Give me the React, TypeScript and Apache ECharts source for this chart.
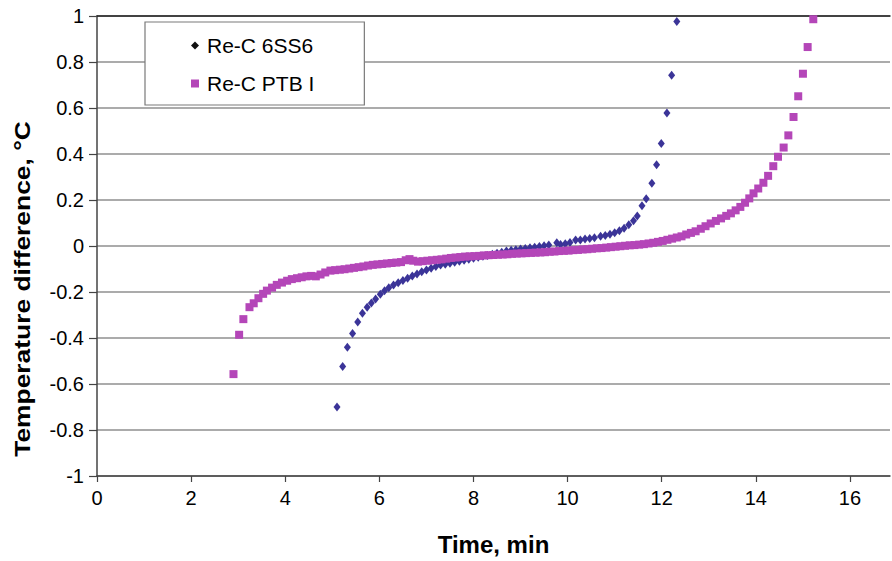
import React, { useEffect, useRef } from "react";
import * as echarts from "echarts";

const seriesNames = ["Re-C 6SS6", "Re-C PTB I"];

// Re-C 6SS6 (time, min / temperature difference, °C)
const sixSS6Time = [
  5.1, 5.22, 5.32, 5.43, 5.54, 5.64, 5.74, 5.83, 5.92, 6.02, 6.11, 6.2, 6.3, 6.4, 6.5, 6.6, 6.7, 6.8, 6.9,
  7.0, 7.1, 7.2, 7.3, 7.4, 7.5, 7.6, 7.7, 7.8, 7.9, 8.0, 8.1, 8.2, 8.3, 8.4, 8.5, 8.6, 8.7, 8.8, 8.9,
  9.0, 9.1, 9.2, 9.3, 9.4, 9.5, 9.6, 9.77, 9.85, 9.95, 10.05, 10.17, 10.27, 10.37, 10.47, 10.57, 10.7,
  10.8, 10.9, 11.0, 11.1, 11.2, 11.3, 11.4, 11.48, 11.58, 11.67, 11.79, 11.89, 11.99, 12.11, 12.21, 12.32,
];
const sixSS6Diff = [
  -0.7, -0.524, -0.44, -0.38, -0.33, -0.292, -0.266, -0.248, -0.23, -0.21, -0.195, -0.182, -0.17, -0.16,
  -0.15, -0.14, -0.13, -0.122, -0.112, -0.104, -0.097, -0.089, -0.083, -0.079, -0.075, -0.071, -0.066,
  -0.062, -0.058, -0.053, -0.049, -0.045, -0.041, -0.036, -0.031, -0.027, -0.022, -0.019, -0.016, -0.013,
  -0.011, -0.008, -0.005, -0.002, 0.001, 0.004, 0.014, 0.006, 0.01, 0.015, 0.026, 0.026, 0.03, 0.033,
  0.036, 0.042, 0.046, 0.051, 0.058, 0.066, 0.077, 0.092, 0.11, 0.13, 0.175, 0.205, 0.273, 0.353, 0.446,
  0.578, 0.742, 0.976,
];

// Re-C PTB I (time, min / temperature difference, °C)
const ptbTime = [
  2.9, 3.02, 3.11, 3.24, 3.33, 3.43, 3.53, 3.61, 3.72, 3.82, 3.93, 4.04, 4.14, 4.25, 4.35, 4.45, 4.55,
  4.65, 4.75, 4.85, 4.96, 5.06, 5.16, 5.26, 5.36, 5.46, 5.56, 5.66, 5.76, 5.86, 5.96, 6.06, 6.16, 6.26,
  6.36, 6.46, 6.56, 6.64, 6.72, 6.82, 6.92, 7.02, 7.12, 7.22, 7.32, 7.42, 7.52, 7.62, 7.72, 7.82, 7.92,
  8.02, 8.12, 8.22, 8.32, 8.42, 8.52, 8.62, 8.72, 8.82, 8.92, 9.02, 9.12, 9.22, 9.32, 9.42, 9.52, 9.62,
  9.72, 9.82, 9.92, 10.02, 10.12, 10.22, 10.32, 10.42, 10.52, 10.62, 10.72, 10.82, 10.92, 11.02, 11.12,
  11.22, 11.32, 11.42, 11.52, 11.62, 11.72, 11.82, 11.92, 12.02, 12.12, 12.22, 12.32, 12.42, 12.52, 12.62,
  12.72, 12.83, 12.93, 13.04, 13.15, 13.26, 13.37, 13.47, 13.57, 13.67, 13.77, 13.86, 13.95, 14.05, 14.16,
  14.26, 14.37, 14.47, 14.59, 14.69, 14.8, 14.9, 15.0, 15.1, 15.22,
];
const ptbDiff = [
  -0.557, -0.386, -0.318, -0.266, -0.249, -0.227, -0.208, -0.194, -0.181, -0.169, -0.159, -0.151, -0.144,
  -0.14, -0.136, -0.132, -0.13, -0.132, -0.124, -0.115, -0.107, -0.105, -0.103, -0.101, -0.098, -0.095,
  -0.092, -0.089, -0.085, -0.082, -0.08, -0.078, -0.076, -0.074, -0.072, -0.07, -0.062, -0.057, -0.064,
  -0.068, -0.066, -0.064, -0.062, -0.06, -0.058, -0.055, -0.052, -0.05, -0.048, -0.046, -0.045, -0.044,
  -0.043, -0.041, -0.04, -0.039, -0.038, -0.037, -0.036, -0.034, -0.033, -0.032, -0.031, -0.03, -0.029,
  -0.028, -0.027, -0.025, -0.024, -0.022, -0.021, -0.02, -0.018, -0.017, -0.015, -0.014, -0.012, -0.01,
  -0.009, -0.007, -0.005, -0.003, -0.001, 0.001, 0.003, 0.004, 0.006, 0.008, 0.011, 0.014, 0.018, 0.022,
  0.027, 0.032, 0.037, 0.042, 0.05, 0.057, 0.064, 0.075, 0.086, 0.098, 0.109, 0.12, 0.131, 0.142, 0.155,
  0.17, 0.188, 0.207, 0.229, 0.25, 0.275, 0.305, 0.347, 0.388, 0.428, 0.481, 0.561, 0.651, 0.749, 0.865,
  0.986,
];

const xAxisTitle = "Time, min";
const yAxisTitle = "Temperature difference, °C";
const xMin = 0;
const xMax = 16.85;
const xStep = 2;
const yMin = -1;
const yMax = 1;
const yStep = 0.2;

const FONT = "'Liberation Sans', Arial, Helvetica, sans-serif";

export default function App() {
  const ref = useRef<HTMLDivElement>(null);

  useEffect(() => {
    if (!ref.current) return;
    const chart = echarts.init(ref.current, null, { renderer: "svg" });
    const zip = (xs: number[], ys: number[]) => xs.map((x, i) => [x, ys[i]]);

    chart.setOption({
      animation: false,
      backgroundColor: "#ffffff",
      grid: { left: 97, right: 2, top: 16, bottom: 84, containLabel: false },
      legend: {
        orient: "vertical",
        left: 145,
        top: 22,
        padding: [13, 50, 11, 46],
        itemGap: 17,
        itemWidth: 8,
        itemHeight: 8,
        backgroundColor: "#ffffff",
        borderColor: "#7a7a7a",
        borderWidth: 1.2,
        textStyle: { fontFamily: FONT, fontSize: 21, color: "#000", padding: [0, 0, 0, 3] },
        data: [
          { name: seriesNames[0], icon: "diamond", itemStyle: { color: "#111111" } },
          { name: seriesNames[1], icon: "rect", itemStyle: { color: "#b446b8" } },
        ],
      },
      xAxis: [
        {
          type: "value",
          min: xMin,
          max: xMax,
          interval: xStep,
          name: xAxisTitle,
          nameLocation: "middle",
          nameGap: 56,
          nameTextStyle: { fontFamily: FONT, fontWeight: "bold", fontSize: 24, color: "#000" },
          axisLine: { show: true, onZero: false, lineStyle: { color: "#444", width: 1.5 } },
          axisTick: { show: true, inside: false, length: 6, lineStyle: { color: "#444", width: 1.2 } },
          axisLabel: {
            fontFamily: FONT,
            fontSize: 20,
            color: "#000",
            margin: 12,
            showMaxLabel: false,
            formatter: (v: number) => (Math.abs(v / xStep - Math.round(v / xStep)) < 1e-6 ? String(v) : ""),
          },
          splitLine: { show: false },
        },
        {
          type: "value",
          position: "top",
          min: xMin,
          max: xMax,
          axisLine: { show: true, onZero: false, lineStyle: { color: "#222", width: 1.5 } },
          axisTick: { show: false },
          axisLabel: { show: false },
          splitLine: { show: false },
        },
      ],
      yAxis: {
        type: "value",
        min: yMin,
        max: yMax,
        interval: yStep,
        axisLine: { show: true, onZero: false, lineStyle: { color: "#444", width: 1.5 } },
        axisTick: { show: true, inside: false, length: 8, lineStyle: { color: "#444", width: 1.2 } },
        axisLabel: { fontFamily: FONT, fontSize: 20, color: "#000", margin: 13 },
        splitLine: { show: true, lineStyle: { color: "#8f8f8f", width: 1.5 } },
      },
      graphic: [
        {
          type: "text",
          x: 22,
          y: 289,
          rotation: Math.PI / 2,
          scaleX: 1.2,
          style: {
            text: yAxisTitle,
            fontFamily: FONT,
            fontWeight: "bold",
            fontSize: 22,
            fill: "#000",
            textAlign: "center",
            textVerticalAlign: "middle",
          },
        },
      ],
      series: [
        {
          name: seriesNames[0],
          type: "scatter",
          xAxisIndex: 0,
          symbol: "diamond",
          symbolSize: [7, 9],
          itemStyle: { color: "#3b3498", opacity: 1 },
          data: zip(sixSS6Time, sixSS6Diff),
          z: 2,
        },
        {
          name: seriesNames[1],
          type: "scatter",
          xAxisIndex: 0,
          symbol: "rect",
          symbolSize: 8,
          itemStyle: { color: "#b446b8", opacity: 1 },
          data: zip(ptbTime, ptbDiff),
          z: 3,
        },
      ],
    });

    return () => chart.dispose();
  }, []);

  return <div ref={ref} style={{ position: "fixed", left: 0, top: 0, width: 892, height: 561 }} />;
}
